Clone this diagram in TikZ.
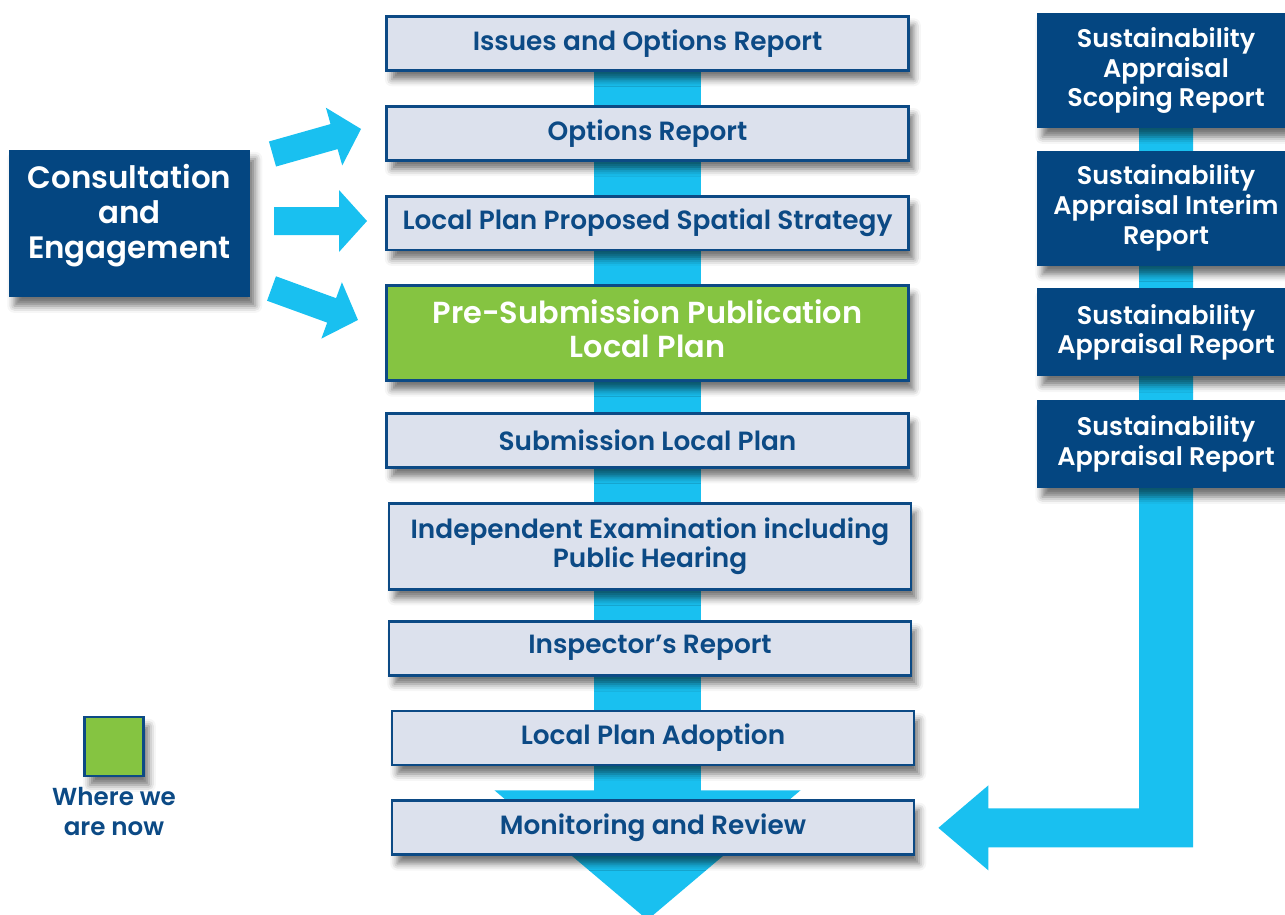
\documentclass[tikz,border=0pt]{standalone}
\usepackage{fontspec}
\setmainfont{Poppins}[UprightFont={* SemiBold}]
\usepackage{xcolor}
\usepackage{tikz}
\usetikzlibrary{positioning, calc, backgrounds, shadows.blur}

\definecolor{planblue}{HTML}{0C4A85}
\definecolor{stagegrey}{HTML}{DCE1ED}
\definecolor{flowcyan}{HTML}{19C0F0}
\definecolor{nowgreen}{HTML}{85C441}
\definecolor{sablue}{HTML}{044681}

\begin{document}
\begin{tikzpicture}[
    x=0.02cm, y=-0.02cm,
    node distance=0.66cm,
    shade/.style={blur shadow={shadow xshift=3pt, shadow yshift=-5pt, shadow blur radius=4pt, shadow opacity=55}},
    stage/.style={rectangle, draw=planblue, line width=1.6pt, fill=stagegrey, text=planblue, minimum width=10.44cm, minimum height=1.08cm, align=center, font=\fontsize{15}{16.5}\selectfont, shade},
    current/.style={stage, fill=nowgreen, text=white, minimum height=1.9cm, text depth=5.5pt, font=\fontsize{17.3}{19.5}\selectfont},
    sabox/.style={rectangle, fill=sablue, text=white, minimum width=5.16cm, align=center, font=\fontsize{14.5}{17}\selectfont, shade},
    flow/.style={fill=flowcyan}
]
\useasboundingbox (0,0) rectangle (1285,914);

% main plan stages
\node[stage] (issues) at (647.5,43.5) {Issues and Options Report};
\node[stage, below=of issues] (options) {Options Report};
\node[stage, below=of options] (spatial) {Local Plan Proposed Spatial Strategy};
\node[current, below=of spatial] (presub) {Pre-Submission Publication\\Local Plan};
\node[stage, below=0.6cm of presub] (submission) {Submission Local Plan};
\node[stage, below=of submission, xshift=0.05cm, minimum height=1.72cm] (exam) {Independent Examination including\\Public Hearing};
\node[stage, below=0.58cm of exam] (inspector) {Inspector's Report};
\node[stage, below=of inspector, xshift=0.06cm] (adoption) {Local Plan Adoption};
\node[stage, below=of adoption] (monitor) {Monitoring and Review};

% sustainability appraisal column
\node[sabox, minimum height=2.3cm] (sa1) at (1166,70.5) {Sustainability\\Appraisal\\Scoping Report};
\node[sabox, minimum height=2.3cm, below=0.44cm of sa1] (sa2) {Sustainability\\Appraisal Interim\\Report};
\node[sabox, minimum height=1.76cm, below=0.44cm of sa2] (sa3) {Sustainability\\Appraisal Report};
\node[sabox, minimum height=1.76cm, below=0.46cm of sa3] (sa4) {Sustainability\\Appraisal Report};

% consultation
\node[rectangle, fill=sablue, text=white, minimum width=4.82cm, minimum height=2.94cm, align=center, text depth=14pt, font=\fontsize{17.6}{19.8}\selectfont, shade] (consult) at (129.5,223.5) {Consultation\\and\\Engagement};
\fill[flow, shift={(272.5,154)}, rotate=15.8] (0,-13) -- (64,-13) -- (64,-30) -- (92,0) -- (64,30) -- (64,13) -- (0,13) -- cycle;
\fill[flow, shift={(274,221)}] (0,-14) -- (65,-14) -- (65,-31) -- (93,0) -- (65,31) -- (65,14) -- (0,14) -- cycle;
\fill[flow, shift={(271.5,288.5)}, rotate=-20] (0,-13) -- (64,-13) -- (64,-30) -- (92,0) -- (64,30) -- (64,13) -- (0,13) -- cycle;

% key
\node[rectangle, draw=planblue, line width=1.6pt, fill=nowgreen, minimum size=1.18cm, shade] (nowbox) at (114,746.5) {};
\node[below=0.08cm of nowbox, text=planblue, align=center, font=\fontsize{14}{17}\selectfont] (nowtext) {Where we\\are now};

\begin{scope}[on background layer]
  % spine and final arrowhead
  \fill[flow] ($(issues.center)+(-53.5,0)$) rectangle ($(issues.center |- monitor.center)+(53.5,0)$);
  \fill[flow] ($(issues.center |- monitor.center)+(-153,-37.5)$) -- ++(306,0) -- ($(issues.center |- monitor.center)+(0,92)$) -- cycle;
  % appraisal spine feeding back into monitoring
  \fill[flow] ($(sa1.center)+(-27,0)$) -- ($(sa1.center)+(27,0)$) -- ($(sa1.center |- monitor.center)+(27,19.5)$)
    -- ($(monitor.east)+(73,19.5)$) -- ++(0,23) -- ($(monitor.east)+(23,0)$) -- ($(monitor.east)+(73,-42.5)$) -- ++(0,23)
    -- ($(sa1.center |- monitor.center)+(-27,-19.5)$) -- cycle;
\end{scope}
\end{tikzpicture}
\end{document}
